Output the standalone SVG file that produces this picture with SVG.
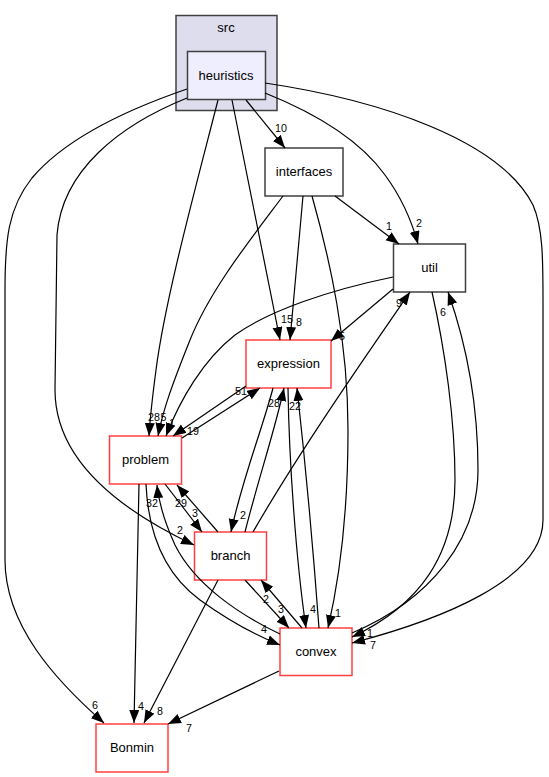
<svg xmlns="http://www.w3.org/2000/svg" width="549" height="777" viewBox="0 0 549 777">
<defs>
<marker id="ah" markerUnits="userSpaceOnUse" markerWidth="14" markerHeight="11" refX="13" refY="5" orient="auto">
<path d="M0,0 L13,5 L0,10 Z" fill="#000"/>
</marker>
<style>
.n{fill:#fff;stroke:#404040;stroke-width:1.5}
.r{fill:#fff;stroke:#ff4040;stroke-width:1.5}
.t{font-family:"Liberation Sans",Arial,sans-serif;font-size:13px;text-anchor:middle;fill:#000}
.e path{fill:none;stroke:#000;stroke-width:1.2;marker-end:url(#ah)}
.e text{font-family:"Liberation Sans",Arial,sans-serif;font-size:10.7px;text-anchor:middle;fill:#000}
</style>
</defs>
<rect width="549" height="777" fill="#fff"/>
<g id="cluster_src">
<rect x="176" y="15.5" width="101" height="95" fill="#ddddee" stroke="#404040" stroke-width="1.5"/>
<text class="t" x="226" y="32">src</text>
</g>
<g id="node_heuristics">
<rect x="187.5" y="51.5" width="78" height="48" fill="#eeeeff" stroke="#404040" stroke-width="1.5"/>
<text class="t" x="226" y="79.5">heuristics</text>
</g>
<g id="node_interfaces">
<rect class="n" x="265" y="148" width="78" height="48"/>
<text class="t" x="304" y="176">interfaces</text>
</g>
<g id="node_util">
<rect class="n" x="393.5" y="244" width="72" height="48"/>
<text class="t" x="429.5" y="272">util</text>
</g>
<g id="node_expression">
<rect class="r" x="246" y="340" width="85" height="48"/>
<text class="t" x="288.5" y="368">expression</text>
</g>
<g id="node_problem">
<rect class="r" x="109.5" y="436" width="72" height="48"/>
<text class="t" x="145.5" y="464">problem</text>
</g>
<g id="node_branch">
<rect class="r" x="194.5" y="532" width="72" height="48"/>
<text class="t" x="230.5" y="560">branch</text>
</g>
<g id="node_convex">
<rect class="r" x="280" y="628" width="72" height="47.5"/>
<text class="t" x="316" y="656">convex</text>
</g>
<g id="node_Bonmin">
<rect class="r" x="96" y="724" width="72" height="48"/>
<text class="t" x="132" y="752">Bonmin</text>
</g>
<g id="edges" class="e">
<path d="M187,89 C120,112 64,140 32,178 C8,208 5,240 5,290 L5,560 C5,625 55,680 104,723"/>
<text x="95" y="709">6</text>
<path d="M187,98 C120,125 62,170 57,235 L55,390 C55,460 120,510 194,545"/>
<text x="180" y="534">2</text>
<path d="M218,100 C195,190 165,300 156,370 C152,400 150,420 149,436"/>
<text x="154" y="421">28</text>
<path d="M232,100 L280,340"/>
<text x="287" y="323">15</text>
<path d="M246,100 L285,148"/>
<text x="281" y="132">10</text>
<path d="M265,93 C320,115 362,143 385,175 C402,198 412,222 418,244"/>
<text x="419" y="227">2</text>
<path d="M265,83 C380,100 500,140 533,205 C543,228 543,260 543,300 L543,520 C543,580 440,620 352,643"/>
<text x="373" y="649">7</text>
<path d="M283,196 C250,240 210,290 190,340 C172,385 163,410 158,436"/>
<text x="163.5" y="421">5</text>
<path d="M303,196 L290,340"/>
<text x="299" y="326">8</text>
<path d="M335,196 L399,244"/>
<text x="389" y="230">1</text>
<path d="M312,196 C330,260 348,340 348,430 C348,520 338,585 328,628"/>
<text x="338" y="617">1</text>
<path d="M393,289 L331,341"/>
<text x="342" y="340">5</text>
<path d="M393,277 C330,290 270,310 235,335 C203,360 180,400 166,436"/>
<text x="172" y="427">1</text>
<path d="M432,292 C445,350 455,420 455,480 C455,555 420,605 352,637"/>
<text x="370" y="637">1</text>
<path d="M352,633 C430,600 478,540 478,470 C478,400 465,340 448,292"/>
<text x="443" y="316">6</text>
<path d="M246,386 L173,436"/>
<text x="193" y="435">19</text>
<path d="M182,438 L260,388"/>
<text x="241" y="395">51</text>
<path d="M273,388 C262,430 242,480 231,532"/>
<text x="243" y="519">2</text>
<path d="M245,532 C258,480 275,430 284,388"/>
<text x="274" y="407">28</text>
<path d="M253,532 C300,450 370,350 410,292"/>
<text x="399" y="307">9</text>
<path d="M288,388 C289,460 296,560 306,628"/>
<text x="313" y="613">4</text>
<path d="M319,628 C314,560 305,460 297,388"/>
<text x="295" y="410">22</text>
<path d="M165,484 L202,532"/>
<text x="195" y="517">3</text>
<path d="M218,532 L177,485"/>
<text x="181" y="507">29</text>
<path d="M280,634 C240,615 195,585 175,545 C165,523 159,505 157,485"/>
<text x="152" y="507">32</text>
<path d="M146,484 C148,530 162,572 200,600 C225,618 250,633 280,645"/>
<text x="264" y="633">4</text>
<path d="M139,484 L134,723"/>
<text x="141" y="710">4</text>
<path d="M218,580 L144,723"/>
<text x="160" y="715">8</text>
<path d="M279,671 L168,724"/>
<text x="189" y="732">7</text>
<path d="M245,580 L289,628"/>
<text x="266" y="603">2</text>
<path d="M302,628 L261,580"/>
<text x="281" y="613">3</text>
</g>
</svg>
